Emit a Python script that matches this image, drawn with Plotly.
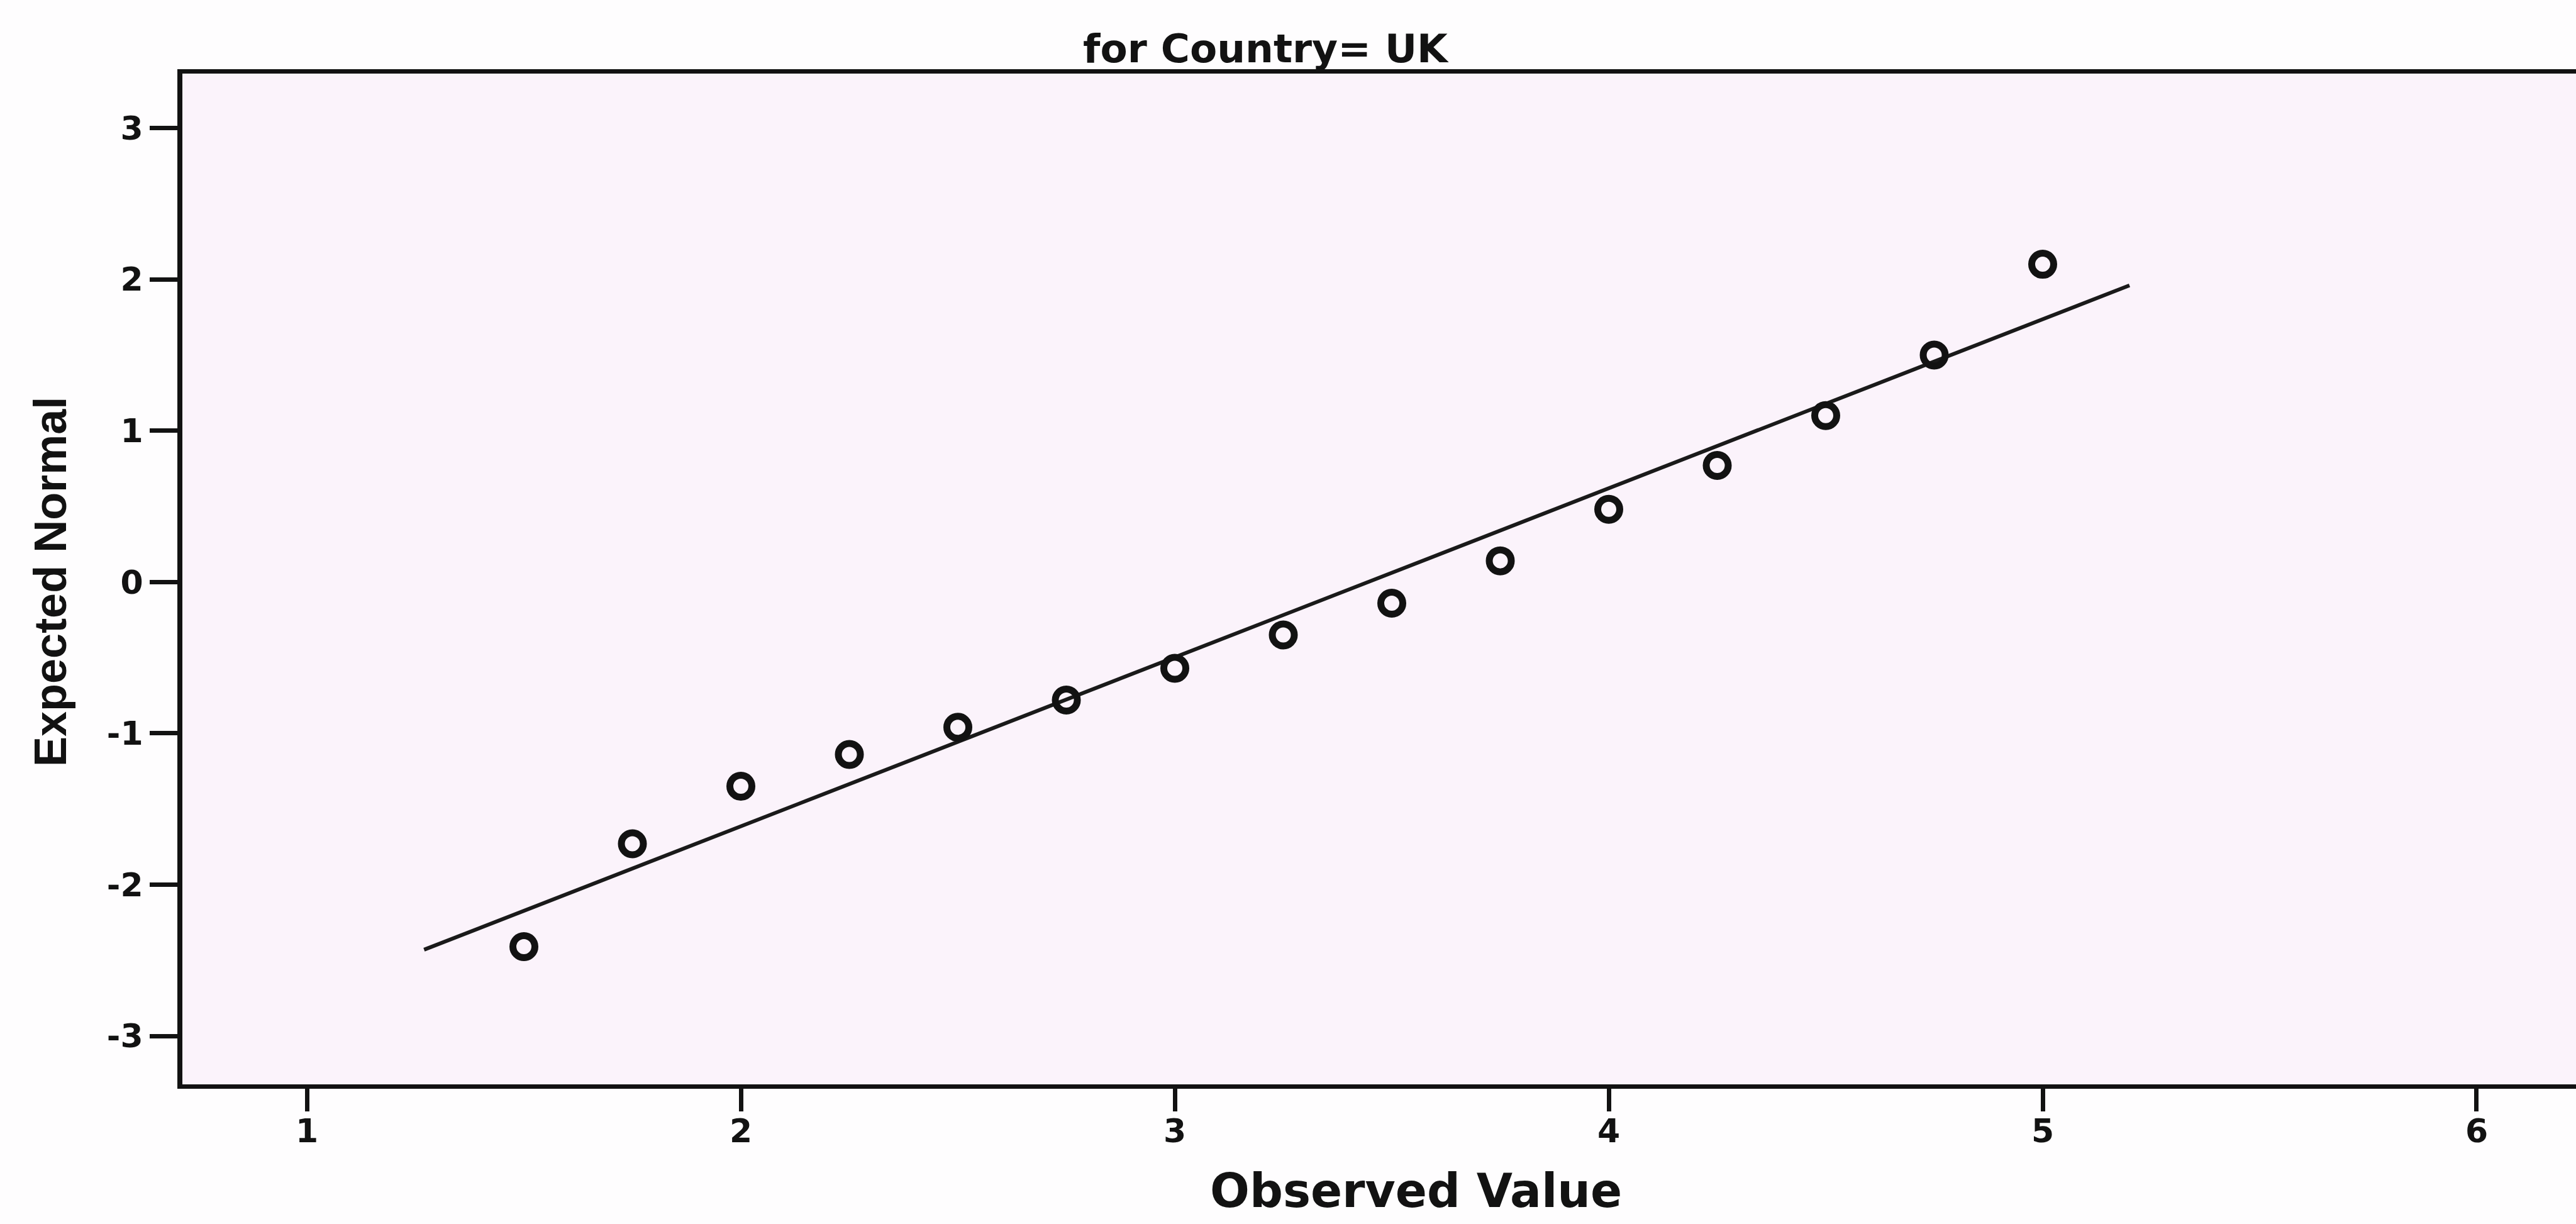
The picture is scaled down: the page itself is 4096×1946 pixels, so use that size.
import plotly.graph_objects as go

# Normal Q-Q plot for Country = UK
observed_value = [1.5, 1.75, 2.0, 2.25, 2.5, 2.75, 3.0, 3.25, 3.5, 3.75, 4.0, 4.25, 4.5, 4.75, 5.0]
expected_normal = [-2.41, -1.73, -1.35, -1.14, -0.96, -0.78, -0.57, -0.35, -0.14, 0.14, 0.48, 0.77, 1.10, 1.50, 2.10]

# reference line end points
line_x = [1.27, 5.20]
line_y = [-2.43, 1.96]

x_ticks = [1, 2, 3, 4, 5, 6]
y_ticks = [-3, -2, -1, 0, 1, 2, 3]

title_text = "for Country= UK"
x_title = "Observed Value"
y_title = "Expected Normal"

W, H = 4096, 1946
L, R, T, B = 290, 0, 117, 222
plot_w = W - L - R
plot_h = H - T - B

ink = "#121212"
bold_font = "DejaVu Sans"
tick_font = dict(family=bold_font, size=52, color=ink, weight="bold")

fig = go.Figure()

fig.add_trace(go.Scatter(
    x=line_x, y=line_y, mode="lines",
    line=dict(color="#1a1a1a", width=6),
    hoverinfo="skip", showlegend=False,
))

fig.add_trace(go.Scatter(
    x=observed_value, y=expected_normal, mode="markers",
    marker=dict(symbol="circle-open", size=35, color=ink,
                line=dict(color=ink, width=11)),
    showlegend=False,
))

fig.update_layout(
    width=W, height=H, autosize=False,
    margin=dict(l=L, r=R, t=T, b=B, pad=0, autoexpand=False),
    paper_bgcolor="#fefdfe",
    plot_bgcolor="#fbf3fb",
    showlegend=False,
)

# x tick labels sit well below the tick marks, so they are placed as annotations
fig.update_xaxes(
    range=[0.713, 6.229],
    tickvals=x_ticks, showticklabels=False,
    ticks="outside", ticklen=36, tickwidth=7, tickcolor=ink,
    showline=True, linecolor=ink, linewidth=7, mirror=True,
    showgrid=False, zeroline=False, automargin=False,
)
for v in x_ticks:
    fig.add_annotation(
        text=str(v), xref="x", yref="paper", x=v, y=0,
        xanchor="center", yanchor="middle", yshift=-(1798 - (H - B)),
        showarrow=False, font=tick_font,
    )

fig.update_yaxes(
    range=[-3.32, 3.36],
    tickvals=y_ticks, ticktext=[str(v) for v in y_ticks],
    ticks="outside", ticklen=44, tickwidth=7, tickcolor=ink,
    tickfont=tick_font,
    showline=True, linecolor=ink, linewidth=8, mirror=False,
    showgrid=False, zeroline=False, automargin=False,
)

fig.add_annotation(
    text=title_text, xref="paper", yref="paper",
    x=(2013 - L) / plot_w, y=1, xanchor="center", yanchor="middle",
    yshift=T - 77, showarrow=False,
    font=dict(family=bold_font, size=63, color=ink, weight="bold"),
)

fig.add_annotation(
    text=x_title, xref="paper", yref="paper",
    x=(2251 - L) / plot_w, y=0, xanchor="center", yanchor="middle",
    yshift=-(1893 - (H - B)), showarrow=False, borderpad=0,
    font=dict(family=bold_font, size=74, color=ink, weight="bold"),
)

fig.add_annotation(
    text=y_title, xref="paper", yref="paper",
    x=(80 - L) / plot_w, y=((H - B) - 925) / plot_h,
    xanchor="center", yanchor="middle", textangle=-90, showarrow=False,
    font=dict(family="Liberation Sans, Arial", size=72,
              color=ink, weight="bold"),
)

fig.write_html("out.html")
